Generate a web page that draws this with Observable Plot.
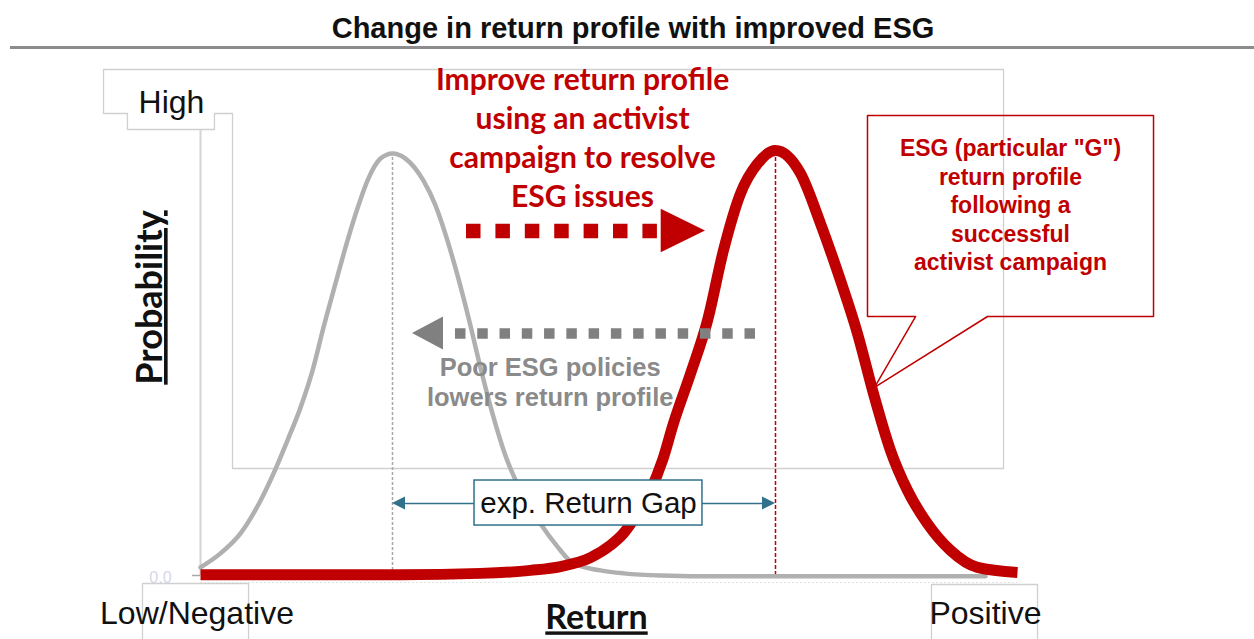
<!DOCTYPE html>
<html>
<head>
<meta charset="utf-8">
<script src="https://cdn.jsdelivr.net/npm/d3@7"></script>
<script src="https://cdn.jsdelivr.net/npm/@observablehq/plot@0.6"></script>
<style>
  body { margin: 0; background: white; }
  #wrap { position: relative; width: 1254px; height: 639px; overflow: hidden; }
  #title { position: absolute; top: 12px; left: 12px; width: 1242px; text-align: center;
           font: bold 29px "Liberation Sans", Arial, sans-serif; line-height: 32px; color: #111; }
  #rule { position: absolute; top: 46px; left: 10px; width: 1244px; height: 3px; background: #8c8c8c; }
</style>
</head>
<body>
<div id="wrap">
  <div id="chart"></div>
  <div id="title">Change in return profile with improved ESG</div>
  <div id="rule"></div>
</div>
<script>
// ---- Data (return on x: 0..100 index, probability normalised: 0..1) ----
const grayX = [0, 2.45, 4.90, 7.34, 8.94, 10.65, 12.24, 13.71, 15.06, 16.52, 17.99, 19.34, 20.44, 22.03, 23.50, 25.09, 27.29, 28.76, 30.23, 31.46, 32.80, 34.27, 35.74, 37.33, 39.17, 41.62, 43.57, 45.65, 48.96, 51.77, 56.30, 63.65, 96.08];
const grayY = [0.019, 0.052, 0.099, 0.176, 0.240, 0.318, 0.395, 0.482, 0.584, 0.687, 0.788, 0.871, 0.929, 0.981, 0.993, 0.981, 0.929, 0.871, 0.788, 0.706, 0.607, 0.489, 0.381, 0.282, 0.200, 0.122, 0.071, 0.028, 0.012, 0.005, 0.0, -0.002, -0.002];
const redX = [0, 24.48, 34.27, 40.39, 44.06, 47.74, 50.18, 51.77, 53.49, 55.08, 56.55, 57.89, 59.98, 62.06, 64.01, 66.10, 68.18, 70.38, 73.44, 75.89, 78.34, 80.42, 82.37, 84.46, 86.54, 88.98, 91.80, 95.10, 100];
const redY = [0.002, 0.002, 0.005, 0.012, 0.021, 0.042, 0.071, 0.099, 0.146, 0.200, 0.271, 0.358, 0.475, 0.600, 0.765, 0.899, 0.969, 1.0, 0.946, 0.828, 0.694, 0.569, 0.428, 0.294, 0.200, 0.122, 0.059, 0.019, 0.007];
const grayMean = 23.5, grayPeak = 0.993;
const redMean = 70.38, redPeak = 1.0;

const yHighLabel = "High";
const xLowLabel = "Low/Negative";
const xHighLabel = "Positive";
const xTitle = "Return";
const yTitle = "Probability";
const zeroLabel = "0.0";
const improveText = "Improve return profile\nusing an activist\ncampaign to resolve\nESG issues";
const poorText = "Poor ESG policies\nlowers return profile";
const calloutText = "ESG (particular \"G\")\nreturn profile\nfollowing a\nsuccessful\nactivist campaign";
const gapText = "exp. Return Gap";

// ---- Styling ----
const RED = "#c00000", GRAY = "#b0b0b0", DGRAY = "#808080", TEAL = "#31718b", FRAME = "#d0d0d0";
const SANS = "'Liberation Sans', Arial, sans-serif";
const CAL = "Lato, 'Open Sans', sans-serif";

function tri(id, tipX, baseX, y, half) {
  return [{id, x: baseX, y1: y - half, y2: y + half}, {id, x: tipX, y1: y, y2: y}];
}

const frameOutline = [
  [-11.87, 1.1906], [98.29, 1.1906], [98.29, 0.2518], [3.92, 0.2518], [3.92, 1.0871],
  [1.71, 1.0871], [1.71, 1.0494], [-8.94, 1.0494], [-8.94, 1.0871], [-11.87, 1.0871], [-11.87, 1.1906]
].map(([x, y]) => ({x, y, g: "f"}));
const labelBoxes = [
  {g: "a", x: -7.10, y: -0.17}, {g: "a", x: -7.10, y: -0.0188}, {g: "a", x: 5.88, y: -0.0188}, {g: "a", x: 5.88, y: -0.17},
  {g: "b", x: 89.47, y: -0.17}, {g: "b", x: 89.47, y: -0.0212}, {g: "b", x: 102.45, y: -0.0212}, {g: "b", x: 102.45, y: -0.17}
];
const callout = [
  [81.64, 1.0824], [116.65, 1.0824], [116.65, 0.6094], [96.33, 0.6094], [82.50, 0.4424],
  [87.52, 0.6094], [81.64, 0.6094], [81.64, 1.0824]
].map(([x, y]) => ({x, y}));

const heads = [
  ...tri("red", 61.81, 56.39, 0.8106, 0.0512),
  ...tri("gray", 25.95, 29.74, 0.5694, 0.0388)
];
const tealHeads = [
  ...tri("l", 23.5, 25.09, 0.1694, 0.0153),
  ...tri("r", 70.38, 68.79, 0.1694, 0.0153)
];

const chart = Plot.plot({
  width: 1254, height: 639,
  marginLeft: 200, marginRight: 237, marginTop: 150, marginBottom: 64,
  x: {domain: [0, 100], axis: null},
  y: {domain: [0, 1], axis: null},
  style: {fontFamily: SANS, background: "white", overflow: "visible"},
  marks: [
    Plot.line(frameOutline, {x: "x", y: "y", stroke: FRAME, strokeWidth: 1.3}),
    Plot.line(labelBoxes, {x: "x", y: "y", z: "g", stroke: FRAME, strokeWidth: 1.3}),
    Plot.ruleX([0], {y1: 0, y2: 1.0494, stroke: "#d4d4d4", strokeWidth: 2}),
    Plot.ruleY([-0.0165], {x1: 0, x2: 100, stroke: "#e2e2e2", strokeDasharray: "2,2"}),
    Plot.ruleY([0], {x1: -0.98, x2: 0, stroke: "#a8a8a8", strokeWidth: 1.5}),
    Plot.ruleX([grayMean], {y1: 0, y2: grayPeak, stroke: "#a8a8a8", strokeWidth: 1.5, strokeDasharray: "3,2"}),
    Plot.ruleX([redMean], {y1: 0, y2: redPeak, stroke: RED, strokeWidth: 1.5, strokeDasharray: "4,2"}),
    Plot.line(grayX, {x: grayX, y: grayY, curve: "monotone-x", stroke: GRAY, strokeWidth: 4.5}),
    Plot.line(redX, {x: redX, y: redY, curve: "monotone-x", stroke: RED, strokeWidth: 11, strokeLinecap: "butt"}),
    // dotted arrows
    Plot.ruleY([0.8106], {x1: 32.56, x2: 56.06, stroke: RED, strokeWidth: 14.5, strokeDasharray: "14.5,14.9"}),
    Plot.ruleY([0.5694], {x1: 31.21, x2: 67.93, stroke: DGRAY, strokeWidth: 10.5, strokeDasharray: "10.5,11.77"}),
    Plot.areaY(heads, {x: "x", y1: "y1", y2: "y2", z: "id", fill: d => d.id === "red" ? RED : DGRAY}),
    // callout
    Plot.line(callout, {x: "x", y: "y", stroke: RED, strokeWidth: 1.5}),
    // expected return gap
    Plot.ruleY([0.1694], {x1: 24.5, x2: 33.54, stroke: TEAL, strokeWidth: 1.5}),
    Plot.ruleY([0.1694], {x1: 61.44, x2: 69.5, stroke: TEAL, strokeWidth: 1.5}),
    Plot.areaY(tealHeads, {x: "x", y1: "y1", y2: "y2", z: "id", fill: TEAL}),
    Plot.rect([{}], {x1: 33.54, x2: 61.44, y1: 0.1176, y2: 0.2235, fill: "white", stroke: TEAL, strokeWidth: 1.5}),
    Plot.text([gapText], {x: 47.49, y: 0.1694, text: d => d, fontSize: 29.5, fill: "#111", fontFamily: SANS}),
    // texts
    Plot.text([improveText], {x: 46.76, y: 1.0341, text: d => d, fontSize: 30, fontWeight: "bold", fill: RED, fontFamily: CAL, lineHeight: 1.3}),
    Plot.text([poorText], {x: 42.8, y: 0.4576, text: d => d, fontSize: 25.5, fontWeight: "bold", fill: "#8a8a8a", fontFamily: SANS, lineHeight: 1.2}),
    Plot.text([calloutText], {x: 99.14, y: 0.8741, text: d => d, fontSize: 23, fontWeight: "bold", fill: RED, fontFamily: SANS, lineHeight: 1.24}),
    Plot.text([yHighLabel], {x: -3.55, y: 1.1129, text: d => d, fontSize: 32, fill: "#111"}),
    Plot.text([xLowLabel], {x: -0.43, y: -0.0894, text: d => d, fontSize: 32, fill: "#111"}),
    Plot.text([xHighLabel], {x: 96.08, y: -0.0894, text: d => d, fontSize: 32, fill: "#111"}),
    Plot.text([zeroLabel], {x: -4.9, y: -0.005, text: d => d, fontSize: 16, fill: "#d6d6ea"}),
    Plot.text([xTitle], {x: 48.47, y: -0.1012, text: d => d, fontSize: 34, fontWeight: "bold", fill: "#111", fontFamily: CAL}),
    Plot.text([yTitle], {x: -6.12, y: 0.6541, text: d => d, fontSize: 36, fontWeight: "bold", fill: "#111", fontFamily: CAL, rotate: -90})
  ]
});

d3.select(chart).selectAll("text")
  .filter(function() { return this.textContent === xTitle || this.textContent === yTitle; })
  .style("text-decoration", "underline");

document.getElementById("chart").appendChild(chart);
</script>
</body>
</html>
